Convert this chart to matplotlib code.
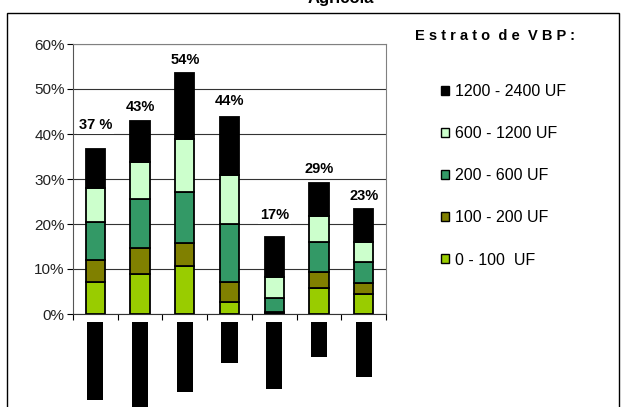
import matplotlib
matplotlib.use("Agg")
import matplotlib.pyplot as plt
import numpy as np
from matplotlib.patches import Patch, Rectangle

plt.rcParams['font.family'] = ['Liberation Sans', 'DejaVu Sans']

# ---- data ----
strata = ["0 - 100  UF", "100 - 200 UF", "200 - 600 UF", "600 - 1200 UF", "1200 - 2400 UF"]
colors = ["#99CC00", "#808000", "#339966", "#CCFFCC", "#000000"]
# segment heights (%)
s_0_100    = [7.2, 8.9, 10.7, 2.6, 0.2, 5.7, 4.4]
s_100_200  = [4.8, 5.8, 5.0, 4.6, 0.3, 3.6, 2.6]
s_200_600  = [8.4, 10.8, 11.5, 12.9, 3.0, 6.6, 4.5]
s_600_1200 = [7.5, 8.2, 11.8, 10.9, 4.8, 5.8, 4.4]
s_1200_2400 = [8.8, 9.3, 14.6, 12.8, 8.8, 7.5, 7.4]
series = [s_0_100, s_100_200, s_200_600, s_600_1200, s_1200_2400]
totals_labels = ["37 %", "43%", "54%", "44%", "17%", "29%", "23%"]
# lower (cropped) chart values
lower_values = [17.4, 21.0, 15.6, 9.2, 14.8, 7.8, 12.3]
yticks = [0, 10, 20, 30, 40, 50, 60]

W, H = 621, 407
fig = plt.figure(figsize=(W / 100, H / 100), dpi=100)

def fx(px):
    return px / W

def fy(py):
    return 1 - py / H

# outer frame
fig.patches.append(Rectangle((fx(7), fy(430)), fx(612), (430 - 12.5) / H,
                             transform=fig.transFigure, fill=False,
                             edgecolor="black", linewidth=1.0, clip_on=False))

# title (cut off at top, as in the reference)
fig.text(fx(341), fy(3.5), "Agrícola", ha="center", va="baseline",
         fontsize=12, fontweight="bold")

ax = fig.add_axes([fx(73), fy(314), fx(386) - fx(73), (314 - 44) / H])
n = len(s_0_100)
x = np.arange(n)
bottom = np.zeros(n)
for vals, col in zip(series, colors):
    ax.bar(x, vals, bottom=bottom, width=0.43, color=col, edgecolor="black",
           linewidth=1.3, zorder=3)
    bottom += np.array(vals)

label_off = [5.2, 2.9, 2.9, 3.6, 4.8, 3.1, 2.9]
for i, (t, lab) in enumerate(zip(bottom, totals_labels)):
    ax.text(i, t + label_off[i], lab, ha="center", va="center", fontsize=10.5,
            fontweight="bold", zorder=4,
            bbox=dict(facecolor="white", edgecolor="none", pad=1.5))

ax.set_xlim(-0.5, n - 0.5)
ax.set_ylim(0, 60)
ax.set_yticks(yticks)
ax.set_yticklabels([f"{v}%" for v in yticks], fontsize=11, color="#222222")
ax.set_xticks(np.arange(n + 1) - 0.5)
ax.set_xticklabels([])
ax.tick_params(axis="x", length=4, direction="out", width=0.8)
ax.tick_params(axis="y", length=4, direction="out", width=0.8, pad=2)
ax.grid(axis="y", color="#333333", linewidth=0.8, zorder=1)
for s in ["top", "right"]:
    ax.spines[s].set_color("#808080")
ax.spines["left"].set_color("#555555")
ax.spines["bottom"].set_color("#333333")

# legend
handles = [Patch(facecolor=c, edgecolor="black", linewidth=1.0) for c in colors]
leg = fig.legend(handles[::-1], strata[::-1], loc="upper left",
                 bbox_to_anchor=(fx(441), fy(84)), frameon=False, fontsize=11.5,
                 handlelength=0.5, handleheight=0.5, handletextpad=0.35,
                 labelspacing=1.7, borderpad=0, borderaxespad=0)
fig.text(fx(415), fy(36), "E s t r a t o  d e  V B P :", ha="left", va="center",
         fontsize=10.5, fontweight="bold")

# lower cropped chart
ax2 = fig.add_axes([fx(73), fy(430), fx(386) - fx(73), (430 - 322) / H])
ax2.bar(x, lower_values, width=0.36, color="black", zorder=3)
ax2.set_xlim(-0.5, n - 0.5)
ax2.set_ylim(0, (430 - 322) / 4.5)
ax2.invert_yaxis()
ax2.axis("off")

fig.savefig("out.png", dpi=100)
